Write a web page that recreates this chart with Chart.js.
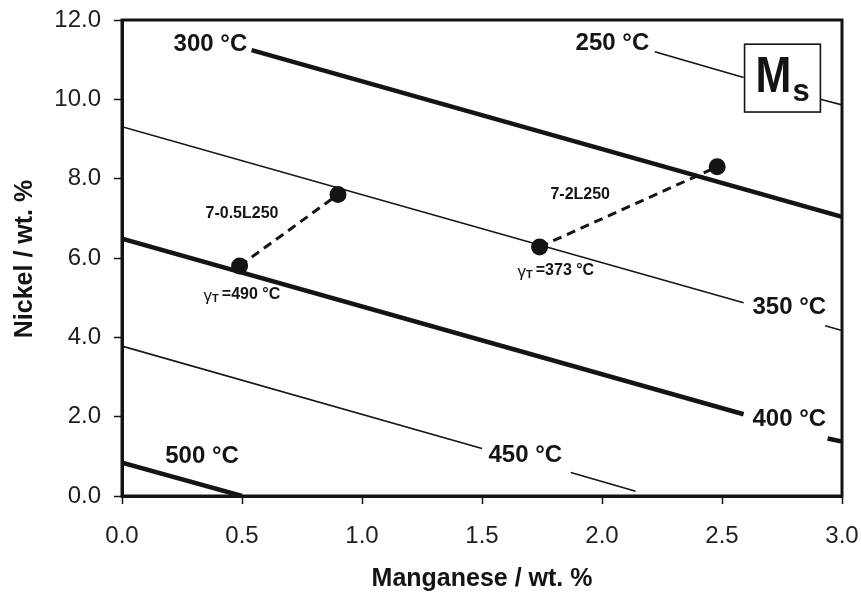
<!DOCTYPE html>
<html>
<head>
<meta charset="utf-8">
<script src="https://cdn.jsdelivr.net/npm/chart.js@4.4.1/dist/chart.umd.min.js"></script>
<style>
  html, body { margin: 0; padding: 0; background: #fff; }
</style>
</head>
<body>
<canvas id="chart" width="861" height="594"></canvas>
<script>
// Ms isotherms: [Mn wt.%, Ni wt.%]; a null Ni breaks the line where a label sits
const iso250 = [[2.22, 11.20], [2.59, 10.55], [2.75, null], [2.91, 10.00], [3.00, 9.86]];
const iso300 = [[0.54, 11.24], [3.00, 7.04]];
const iso350 = [[0.00, 9.31], [2.59, 4.87], [2.75, null], [2.93, 4.29], [3.00, 4.17]];
const iso400 = [[0.00, 6.49], [2.59, 2.06], [2.75, null], [2.94, 1.45], [3.00, 1.37]];
const iso450 = [[0.00, 3.78], [1.50, 1.20], [1.70, null], [1.87, 0.59], [2.14, 0.12]];
const iso500 = [[0.00, 0.84], [0.50, 0.00]];

// alloys: local composition at gamma_T vs. nominal
const alloy05 = [[0.49, 5.80], [0.90, 7.60]];   // 7-0.5L250
const alloy2  = [[1.74, 6.28], [2.48, 8.30]];   // 7-2L250

const isoNames   = ['250 °C', '300 °C', '350 °C', '400 °C', '450 °C', '500 °C'];
const alloyNames = ['7-0.5L250', '7-2L250'];
const gammaT     = ['=490 °C', '=373 °C'];

const xTickStep = 0.5;
const yTickStep = 2;

const ink = '#141414';
const pts = arr => arr.map(p => ({ x: p[0], y: p[1] }));

function isoSet(data, thick) {
  return {
    data: pts(data),
    borderColor: ink,
    borderWidth: thick ? 4.5 : 1.6,
    pointRadius: 0,
    spanGaps: false,
    tension: 0
  };
}
function alloySet(data) {
  return {
    data: pts(data),
    borderColor: ink,
    borderWidth: 3,
    borderDash: [9, 6],
    pointRadius: 7,
    pointBackgroundColor: ink,
    pointBorderColor: ink,
    tension: 0
  };
}

// text placement in data units (left x, middle y)
const isoLabelAt   = [[1.89, 11.41], [0.215, 11.39], [2.627, 4.76], [2.627, 1.92], [1.527, 1.03], [0.18, 1.01]];
const alloyLabelAt = [[0.348, 7.12], [1.785, 7.61]];
const gammaLabelAt = [[0.34, 5.07], [1.648, 5.67]];

const annotate = {
  id: 'annotate',
  afterDraw(chart) {
    const { ctx, chartArea: a, scales: { x, y } } = chart;
    ctx.save();
    // frame top / right
    ctx.strokeStyle = ink;
    ctx.lineWidth = 3;
    ctx.strokeRect(a.left, a.top, a.right - a.left, a.bottom - a.top);

    ctx.fillStyle = ink;
    ctx.textBaseline = 'middle';
    ctx.textAlign = 'left';

    ctx.font = 'bold 24px "Liberation Sans", Arial, sans-serif';
    isoNames.forEach((t, i) => {
      ctx.fillText(t, x.getPixelForValue(isoLabelAt[i][0]), y.getPixelForValue(isoLabelAt[i][1]));
    });

    ctx.font = 'bold 16px "Liberation Sans", Arial, sans-serif';
    alloyNames.forEach((t, i) => {
      ctx.fillText(t, x.getPixelForValue(alloyLabelAt[i][0]), y.getPixelForValue(alloyLabelAt[i][1]));
    });

    gammaT.forEach((t, i) => {
      let px = x.getPixelForValue(gammaLabelAt[i][0]);
      const py = y.getPixelForValue(gammaLabelAt[i][1]);
      ctx.font = '17px "Liberation Sans", Arial, sans-serif';
      ctx.fillText('γ', px, py + 1);
      px += ctx.measureText('γ').width;
      ctx.font = 'bold 11px "Liberation Sans", Arial, sans-serif';
      ctx.fillText('T', px, py + 4);
      px += ctx.measureText('T').width + 3;
      ctx.font = 'bold 16px "Liberation Sans", Arial, sans-serif';
      ctx.fillText(t, px, py);
    });

    // Ms box
    const bx0 = x.getPixelForValue(2.594), bx1 = x.getPixelForValue(2.91);
    const by0 = y.getPixelForValue(11.39), by1 = y.getPixelForValue(9.68);
    ctx.fillStyle = '#fff';
    ctx.fillRect(bx0, by0, bx1 - bx0, by1 - by0);
    ctx.lineWidth = 1.6;
    ctx.strokeRect(bx0, by0, bx1 - bx0, by1 - by0);
    ctx.fillStyle = ink;
    ctx.textBaseline = 'alphabetic';
    ctx.font = 'bold 50px "Liberation Sans", Arial, sans-serif';
    ctx.save();
    ctx.translate(bx0 + 11, by0 + 48);
    ctx.scale(0.86, 1);
    ctx.fillText('M', 0, 0);
    ctx.restore();
    ctx.font = 'bold 31px "Liberation Sans", Arial, sans-serif';
    ctx.fillText('s', bx0 + 48, by0 + 57);

    // axis titles
    ctx.font = 'bold 25px "Liberation Sans", Arial, sans-serif';
    ctx.textAlign = 'center';
    ctx.textBaseline = 'alphabetic';
    ctx.fillText('Manganese / wt. %', (a.left + a.right) / 2, 586);
    ctx.save();
    ctx.translate(32, 259);
    ctx.rotate(-Math.PI / 2);
    ctx.fillText('Nickel / wt. %', 0, 0);
    ctx.restore();
    ctx.restore();
  }
};

const axisCommon = {
  type: 'linear',
  grid: { drawOnChartArea: false, drawTicks: true, tickLength: 8, tickWidth: 1.5, color: ink },
  border: { display: true, width: 3, color: ink }
};

new Chart(document.getElementById('chart'), {
  type: 'line',
  data: {
    datasets: [
      isoSet(iso250, false), isoSet(iso300, true), isoSet(iso350, false),
      isoSet(iso400, true), isoSet(iso450, false), isoSet(iso500, true),
      alloySet(alloy05), alloySet(alloy2)
    ]
  },
  options: {
    responsive: false,
    animation: false,
    devicePixelRatio: 1,
    layout: { padding: { top: 20, right: 19, left: 0, bottom: 0 } },
    plugins: { legend: { display: false }, tooltip: { enabled: false } },
    scales: {
      x: {
        ...axisCommon,
        min: 0, max: 3,
        ticks: {
          stepSize: xTickStep, padding: 18, color: '#1e1e1e',
          font: { family: '"Liberation Sans", Arial, sans-serif', size: 24 },
          callback: v => v.toFixed(1)
        },
        afterFit: s => { s.height = 98; s.paddingLeft = 0; s.paddingRight = 0; }
      },
      y: {
        ...axisCommon,
        min: 0, max: 12,
        ticks: {
          stepSize: yTickStep, padding: 13, color: '#1e1e1e',
          font: { family: '"Liberation Sans", Arial, sans-serif', size: 24 },
          callback: v => v.toFixed(1)
        },
        afterFit: s => { s.width = 122; s.paddingTop = 0; s.paddingBottom = 0; }
      }
    }
  },
  plugins: [annotate]
});
</script>
</body>
</html>
